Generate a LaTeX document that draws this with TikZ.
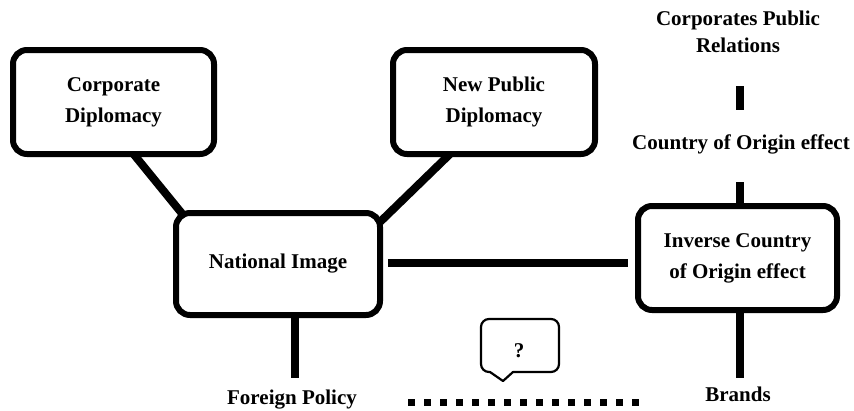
\documentclass[tikz,border=0pt]{standalone}
\usepackage{fontspec}
\setmainfont{Liberation Serif}
\begin{document}
\begin{tikzpicture}[x=1pt,y=-1pt,
  box/.style={draw, line width=6pt, rounded corners=14pt, align=center, inner sep=0pt, outer sep=0pt,
    font=\bfseries\fontsize{21}{31}\selectfont},
  lbl/.style={inner sep=0pt, outer sep=0pt, align=center, font=\bfseries\fontsize{21}{27}\selectfont},
  conn/.style={line width=8pt},
  bar/.style={line width=8pt},
  dots/.style={line width=7pt, dash pattern=on 7pt off 9pt},
  bubble/.style={line width=2.2pt, line join=round}]
\useasboundingbox (0,0) rectangle (854,410);

% boxes
\node[box, minimum width=201pt, minimum height=104pt] (CD) at (113.5,102) {Corporate\\Diplomacy};
\node[box, minimum width=202pt, minimum height=104pt] (NPD) at (494,102) {New Public\\Diplomacy};
\node[box, minimum width=204pt, minimum height=102pt] (NI) at (278,264) {National Image};
\node[box, minimum width=199pt, minimum height=104pt] (ICO) at (737.5,258) {Inverse Country\\of Origin effect};

% plain labels
\node[lbl] (CPR) at (738,31.5) {Corporates Public\\Relations};
\node[lbl, anchor=base] (COE) at (741,149) {Country of Origin effect};
\node[lbl, anchor=base] (FP) at (292,404) {Foreign Policy};
\node[lbl, anchor=base] (BR) at (738,401) {Brands};
\node[lbl, anchor=base] (Q) at (519,357) {?};

% connectors
\draw[conn] ([xshift=20pt]CD.south) -- ([xshift=8pt,yshift=-3pt]NI.north west);
\draw[conn] ([xshift=-44pt]NPD.south) -- ([yshift=-9pt]NI.north east);
\draw[conn] ([xshift=8pt,yshift=1pt]NI.east) -- ([xshift=-10pt,yshift=1pt]NI.east -| ICO.west);
\coordinate (fpTop) at (295,378);
\draw[conn] (NI.south -| fpTop) -- (fpTop);
\coordinate (brTop) at (740,378);
\draw[conn] (ICO.south -| brTop) -- (brTop);

% bars on the right
\coordinate (b1a) at (740,86);
\coordinate (b1b) at (740,110);
\draw[bar] (b1a) -- (b1b);
\coordinate (b2a) at (740,182);
\draw[bar] (b2a) -- (b2a |- ICO.north);

% dotted line
\coordinate (dA) at (408,402);
\coordinate (dB) at (639,402);
\draw[dots] (dA) -- (dB);

% speech bubble around the question mark
\draw[bubble] (490,372) -- (503,381) -- (513,372)
  {[rounded corners=8pt] -- (559,372) -- (559,319) -- (481,319) -- (481,372)} -- cycle;
\end{tikzpicture}
\end{document}
